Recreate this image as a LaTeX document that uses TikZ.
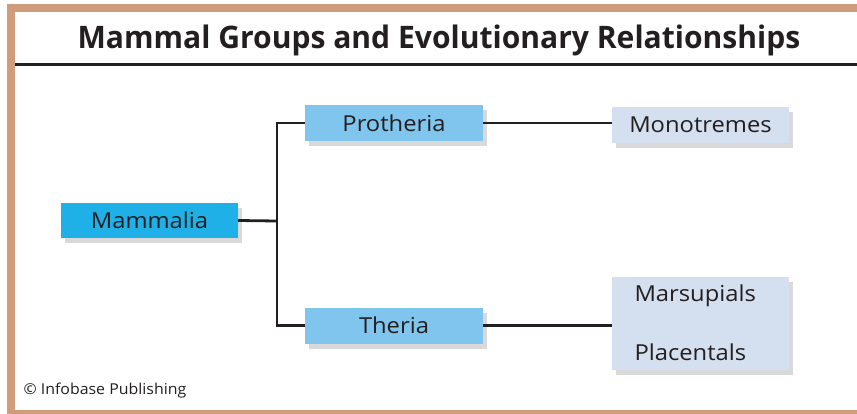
\documentclass[tikz,border=0pt]{standalone}
\usepackage{fontspec}
\setmainfont{Open Sans}
\newfontfamily\titlefont[FakeStretch=0.97]{Open Sans Bold}
\newfontfamily\labelfont[FakeStretch=1.08]{Open Sans}
\newfontfamily\creditfont[FakeStretch=1.06]{Open Sans}
\usetikzlibrary{shadows,positioning}
\definecolor{frame}{HTML}{CF9C7C}
\definecolor{topblue}{HTML}{1EB0E6}
\definecolor{midblue}{HTML}{7FC5EE}
\definecolor{paleblue}{HTML}{D4DFF0}
\definecolor{ink}{HTML}{231F20}
\tikzset{
  lbl/.style={font=\labelfont\fontsize{22}{25}\selectfont, text=ink},
  box/.style={inner sep=0pt, lbl,
    drop shadow={shadow xshift=4pt, shadow yshift=-5pt, opacity=0.15, fill=black}},
  rootbox/.style={box, fill=topblue, minimum width=177pt, minimum height=35pt},
  midbox/.style={box, fill=midblue, minimum width=178pt, minimum height=36pt},
  leafbox/.style={box, fill=paleblue, minimum width=177pt, minimum height=36pt},
  link/.style={draw=ink, line width=2.8pt}
}
\begin{document}
\begin{tikzpicture}[x=1pt,y=-1pt]
\useasboundingbox (0,0) rectangle (857,413);
\clip (0,0) rectangle (857,413);
\fill[frame] (7,4) rectangle (880,430);
\fill[white] (15,12) rectangle (857,410);
\node[anchor=center, font=\titlefont\fontsize{31}{34}\selectfont, text=ink] (title) at (439,40) {Mammal Groups and Evolutionary Relationships};
\fill[ink] (15,62.5) rectangle (857,66);
\node[rootbox] (mam) at (149.5,220.5) {Mammalia};
\node[midbox] (pro) at (394,123) {Protheria};
\node[midbox] (the) at (394,325.5) {Theria};
\node[leafbox] (mono) at (700.5,125) {Monotremes};
\node[leafbox, minimum height=93pt] (mp) at (700.5,323.5) {};
\node[anchor=west, lbl] (mar) at (631,296) {Marsupials};
\node[anchor=west, lbl] (pla) at (631,352) {Placentals};
\coordinate (fork) at (277,221);
\draw[link] (mam.east) -- (fork);
\draw[link] (pro.west) -- (277,123) -- (277,325.5) -- (the.west);
\draw[link] (pro.east) -- (pro.east -| mono.west);
\draw[link] (the.east) -- (the.east -| mp.west);
\node[anchor=west, font=\creditfont\fontsize{15}{18}\selectfont, text=ink] (credit) at (20,391) {© Infobase Publishing};
\end{tikzpicture}
\end{document}
